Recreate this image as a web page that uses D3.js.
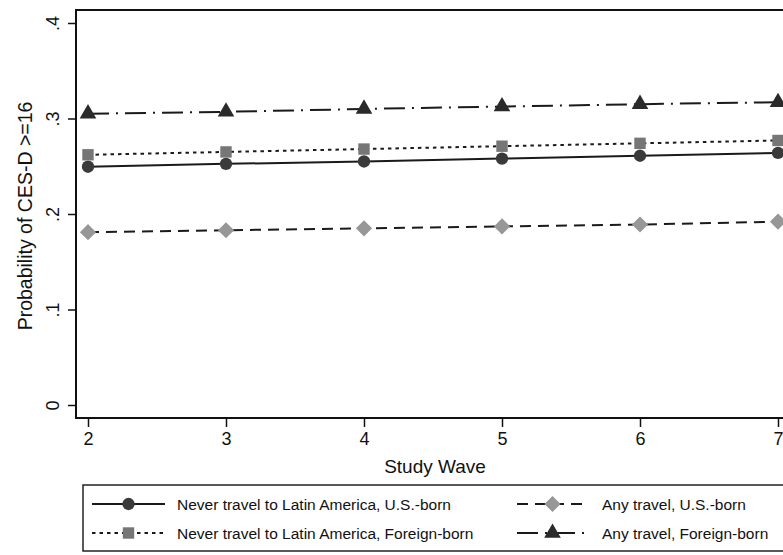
<!DOCTYPE html>
<html>
<head>
<meta charset="utf-8">
<script src="https://cdn.jsdelivr.net/npm/d3@7"></script>
<style>
  body { margin: 0; background: #fff; }
  text { font-family: "Liberation Sans", Arial, sans-serif; fill: #111; }
</style>
</head>
<body>
<svg id="chart" width="783" height="555"></svg>
<script>
const waves = [2, 3, 4, 5, 6, 7];
const neverUS = [0.2495, 0.2525, 0.255, 0.258, 0.261, 0.264];
const neverForeign = [0.262, 0.265, 0.268, 0.271, 0.274, 0.277];
const anyUS = [0.181, 0.183, 0.185, 0.187, 0.189, 0.192];
const anyForeign = [0.305, 0.307, 0.310, 0.3125, 0.315, 0.317];
const yTicks = [0, 0.1, 0.2, 0.3, 0.4];
const yTickLabels = ["0", ".1", ".2", ".3", ".4"];

const series = [
  { name: "Never travel to Latin America, U.S.-born", values: neverUS, shape: "circle", fill: "#3a3a3a", dash: null },
  { name: "Never travel to Latin America, Foreign-born", values: neverForeign, shape: "square", fill: "#767676", dash: "3.5,4" },
  { name: "Any travel, U.S.-born", values: anyUS, shape: "diamond", fill: "#979797", dash: "11,7" },
  { name: "Any travel, Foreign-born", values: anyForeign, shape: "triangle", fill: "#2a2a2a", dash: "21,7,2,7" }
];

var svg = d3.select("#chart");
var frame = { left: 76, top: 10, right: 800, bottom: 418 };

var x = d3.scaleLinear().domain([2, 7]).range([88, 778]);
var y = d3.scaleLinear().domain([0, 0.4]).range([405, 23]);

function symbolFor(shape) {
  if (shape === "circle") return d3.symbol().type(d3.symbolCircle).size(120);
  if (shape === "square") return d3.symbol().type(d3.symbolSquare).size(130);
  if (shape === "diamond") return d3.symbol().type(d3.symbolSquare).size(130);
  return d3.symbol().type(d3.symbolTriangle).size(120);
}

function drawMarker(sel, s, cx, cy) {
  var p = sel.append("path")
    .attr("d", symbolFor(s.shape)())
    .attr("fill", s.fill);
  if (s.shape === "diamond") {
    p.attr("transform", `translate(${cx},${cy}) rotate(45)`);
  } else {
    p.attr("transform", `translate(${cx},${cy})`);
  }
}

// plot frame
svg.append("rect")
  .attr("x", frame.left)
  .attr("y", frame.top)
  .attr("width", frame.right - frame.left)
  .attr("height", frame.bottom - frame.top)
  .attr("fill", "none")
  .attr("stroke", "#111")
  .attr("stroke-width", 2);

// y axis
var yAxis = svg.append("g")
  .attr("transform", `translate(${frame.left},0)`)
  .call(d3.axisLeft(y).tickValues(yTicks).tickSize(8).tickFormat((d, i) => yTickLabels[i]));
yAxis.select(".domain").remove();
yAxis.selectAll(".tick line").attr("stroke", "#111").attr("stroke-width", 1.5);
yAxis.selectAll(".tick text")
  .attr("transform", "rotate(-90)")
  .attr("x", 0)
  .attr("y", -17)
  .attr("dy", "0")
  .attr("text-anchor", "middle")
  .style("font-size", "18px");

// x axis
var xAxis = svg.append("g")
  .attr("transform", `translate(0,${frame.bottom})`)
  .call(d3.axisBottom(x).tickValues(waves).tickSize(9).tickFormat(d3.format("d")));
xAxis.select(".domain").remove();
xAxis.selectAll(".tick line").attr("stroke", "#111").attr("stroke-width", 1.5);
xAxis.selectAll(".tick text")
  .attr("y", 14)
  .style("font-size", "18px");

svg.append("text")
  .attr("x", 435)
  .attr("y", 473)
  .attr("text-anchor", "middle")
  .style("font-size", "19px")
  .text("Study Wave");

svg.append("text")
  .attr("transform", "rotate(-90)")
  .attr("x", -216)
  .attr("y", 32)
  .attr("text-anchor", "middle")
  .style("font-size", "19.5px")
  .text("Probability of CES-D >=16");

// series
series.forEach(s => {
  var line = d3.line()
    .x((d, i) => x(waves[i]))
    .y(d => y(d));
  svg.append("path")
    .datum(s.values)
    .attr("fill", "none")
    .attr("stroke", "#1a1a1a")
    .attr("stroke-width", 2)
    .attr("stroke-dasharray", s.dash)
    .attr("d", line);
});
series.forEach(s => {
  var g = svg.append("g");
  s.values.forEach((v, i) => drawMarker(g, s, x(waves[i]), y(v)));
});

// legend
svg.append("rect")
  .attr("x", 83)
  .attr("y", 485)
  .attr("width", 720)
  .attr("height", 66)
  .attr("fill", "none")
  .attr("stroke", "#222")
  .attr("stroke-width", 1.5);

var legendPos = [
  { x0: 92, x1: 165, tx: 177, y: 504 },
  { x0: 92, x1: 165, tx: 177, y: 533 },
  { x0: 517, x1: 588, tx: 602, y: 504 },
  { x0: 517, x1: 588, tx: 602, y: 533 }
];
series.forEach((s, i) => {
  var p = legendPos[i];
  svg.append("line")
    .attr("x1", p.x0).attr("x2", p.x1)
    .attr("y1", p.y).attr("y2", p.y)
    .attr("stroke", "#1a1a1a")
    .attr("stroke-width", 2)
    .attr("stroke-dasharray", s.dash);
  drawMarker(svg, s, (p.x0 + p.x1) / 2, p.y);
  svg.append("text")
    .attr("x", p.tx)
    .attr("y", p.y + 5.5)
    .style("font-size", "15.5px")
    .text(s.name);
});
</script>
</body>
</html>
